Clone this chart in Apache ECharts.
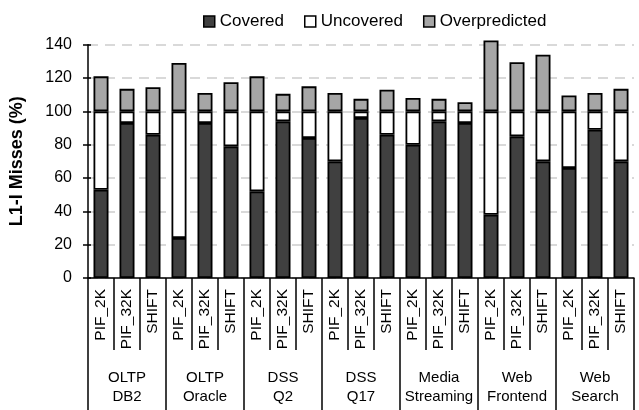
<!DOCTYPE html>
<html>
<head>
<meta charset="utf-8">
<script src="https://cdn.jsdelivr.net/npm/echarts@6/dist/echarts.min.js"></script>
<style>
html,body{margin:0;padding:0;background:#fff;}
#chart{width:639px;height:410px;}
</style>
</head>
<body>
<div id="chart"></div>
<script>
var configs = ['PIF_2K','PIF_32K','SHIFT','PIF_2K','PIF_32K','SHIFT','PIF_2K','PIF_32K','SHIFT','PIF_2K','PIF_32K','SHIFT','PIF_2K','PIF_32K','SHIFT','PIF_2K','PIF_32K','SHIFT','PIF_2K','PIF_32K','SHIFT'];
var workloads = ['OLTP\nDB2','OLTP\nOracle','DSS\nQ2','DSS\nQ17','Media\nStreaming','Web\nFrontend','Web\nSearch'];
var covered = [53,93,86,24,93,79,52,94,84,70,96,86,80,94,93,38,85,70,66,89,70];
var uncovered = [47,7,14,76,7,21,48,6,16,30,4,14,20,6,7,62,15,30,34,11,30];
var overpredicted = [21,13.5,14.5,29,11,17.5,21,10.5,15,11,7.5,13,8,7.5,5.5,42.5,29.5,34,9.5,11,13.5];
var yTicks = [0,20,40,60,80,100,120,140];

var FONT = "'Liberation Sans',Arial,sans-serif";
var chart = echarts.init(document.getElementById('chart'), null, {renderer:'canvas'});

function seg(name, data, color){
  return {
    name:name, type:'bar', stack:'total', data:data, barWidth:15, clip:false,
    itemStyle:{color:color, borderColor:'#000', borderWidth:1.8},
    emphasis:{disabled:true}
  };
}

chart.setOption({
  animation:false,
  textStyle:{fontFamily:FONT},
  legend:{
    left:198, top:8, itemWidth:11, itemHeight:11, itemGap:20,
    textStyle:{fontFamily:FONT, fontSize:17, color:'#000'},
    data:[
      {name:'Covered', icon:'rect', itemStyle:{color:'#404040', borderColor:'#000', borderWidth:1.5}},
      {name:'Uncovered', icon:'rect', itemStyle:{color:'#fff', borderColor:'#000', borderWidth:1.5}},
      {name:'Overpredicted', icon:'rect', itemStyle:{color:'#a6a6a6', borderColor:'#000', borderWidth:1.5}}
    ]
  },
  grid:{left:82, right:5, top:44.7, bottom:132, containLabel:false},
  xAxis:[{
    type:'category', data:configs, position:'bottom',
    axisLine:{show:true, lineStyle:{color:'#000', width:1.5}},
    axisTick:{show:true, interval:0, length:72, lineStyle:{color:'#000', width:1.5}},
    axisLabel:{interval:0, rotate:90, margin:11, fontFamily:FONT, fontSize:15.5, color:'#000'}
  },{
    type:'category', data:workloads, position:'bottom', offset:0,
    axisLine:{show:false},
    axisTick:{show:true, interval:0, length:132, lineStyle:{color:'#000', width:1.5}},
    axisLabel:{interval:0, margin:90, fontFamily:FONT, fontSize:15, lineHeight:19, color:'#000'}
  }],
  yAxis:[{
    type:'value', min:0, max:140, interval:20,
    name:'L1-I Misses (%)', nameLocation:'middle', nameGap:62, nameRotate:90,
    nameTextStyle:{fontFamily:FONT, fontSize:18, fontWeight:'bold', color:'#000'},
    axisLine:{show:true, lineStyle:{color:'#000', width:1.5}},
    axisTick:{show:true, length:5, lineStyle:{color:'#000', width:1.5}},
    axisLabel:{margin:16, fontFamily:FONT, fontSize:16, color:'#000',
      formatter:function(v){ return yTicks.indexOf(v) >= 0 ? String(v) : ''; }},
    splitLine:{show:true, lineStyle:{color:'#d9d9d9', width:2, type:[10,7]}}
  },{
    type:'value', min:0, max:140, interval:20, position:'left',
    axisLine:{show:false},
    axisTick:{show:true, inside:true, length:3, lineStyle:{color:'#000', width:1.5}},
    axisLabel:{show:false}, splitLine:{show:false}
  }],
  series:[
    seg('Covered', covered, '#404040'),
    seg('Uncovered', uncovered, '#ffffff'),
    seg('Overpredicted', overpredicted, '#a6a6a6')
  ]
});
</script>
</body>
</html>
